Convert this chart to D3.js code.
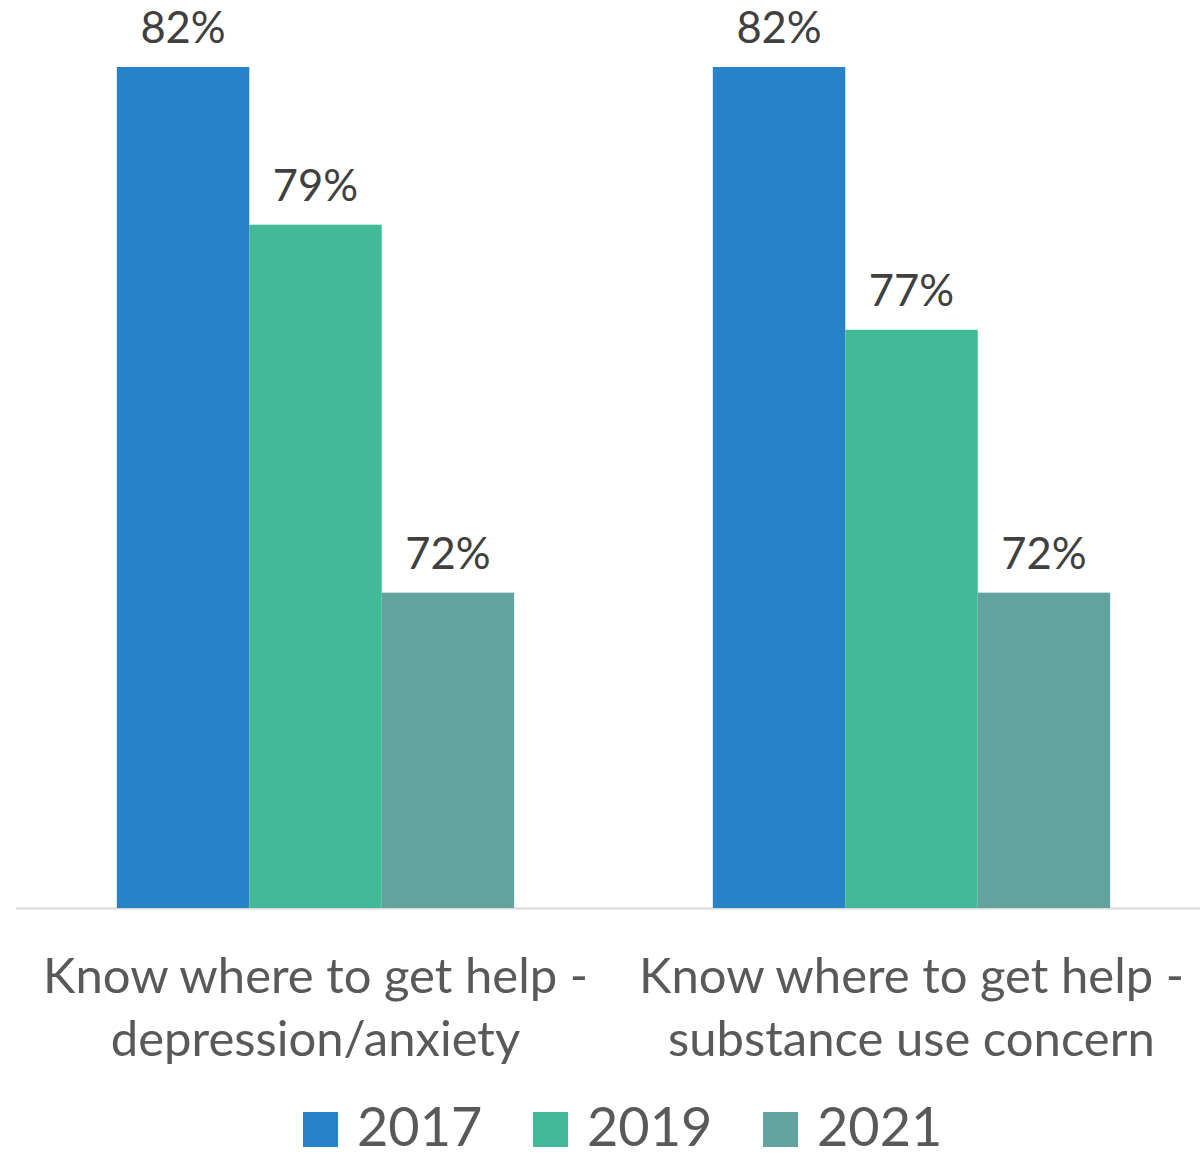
<!DOCTYPE html>
<html><head><meta charset="utf-8">
<script src="https://cdn.jsdelivr.net/npm/d3@7"></script>
<style>body{margin:0;background:#fff}svg{display:block}</style>
</head><body>
<script>
const categories = [["Know where to get help -","depression/anxiety"],["Know where to get help -","substance use concern"]];
const seriesNames = ["2017","2019","2021"];
const values2017 = [82, 82];
const values2019 = [79, 77];
const values2021 = [72, 72];
const colors = ["#2782C7","#43BA97","#63A39F"];

const W = 1200, H = 1158;
const svg = d3.select("body").append("svg").attr("width", W).attr("height", H);
const font = "Lato, 'Open Sans', sans-serif";

const x0 = d3.scaleBand().domain([0,1]).range([17.5, 1209.5]).paddingInner(0).paddingOuter(0);
const x1 = d3.scaleBand().domain(seriesNames).range([0, x0.bandwidth()]).paddingInner(0).paddingOuter(0.75);
const y = d3.scaleLinear().domain([66, 82]).range([908, 67]);

const series = [values2017, values2019, values2021];

// axis line
svg.append("line").attr("x1", 16).attr("x2", 1200).attr("y1", 908.5).attr("y2", 908.5)
  .attr("stroke", "#D9D9D9").attr("stroke-width", 2);

const groups = svg.selectAll("g.cat").data(categories).enter().append("g")
  .attr("transform", (d,i) => `translate(${x0(i)},0)`);

groups.each(function(cat, ci){
  const g = d3.select(this);
  seriesNames.forEach((s, si) => {
    const v = series[si][ci];
    g.append("rect").attr("x", x1(s)).attr("width", x1.bandwidth())
      .attr("y", y(v)).attr("height", y.range()[0] - y(v)).attr("fill", colors[si]);
    g.append("text").attr("x", x1(s) + x1.bandwidth()/2).attr("y", y(v) - 24)
      .attr("text-anchor", "middle").attr("font-family", font).attr("font-size", 43.5)
      .attr("fill", "#404040").text(v + "%");
  });
  const t = g.append("text").attr("x", x0.bandwidth()/2).attr("y", 993)
    .attr("text-anchor", "middle").attr("font-family", font).attr("font-size", 49).attr("fill", "#595959");
  cat.forEach((line, li) => {
    t.append("tspan").attr("x", x0.bandwidth()/2).attr("y", 993 + li*63).text(line);
  });
});

// legend
const legendX = [303, 533, 763];
const leg = svg.append("g");
seriesNames.forEach((s, i) => {
  leg.append("rect").attr("x", legendX[i]).attr("y", 1112).attr("width", 35).attr("height", 35).attr("fill", colors[i]);
  leg.append("text").attr("x", legendX[i] + 54).attr("y", 1146).attr("font-family", font)
    .attr("font-size", 54).attr("fill", "#595959").text(s);
});
</script>
</body></html>
